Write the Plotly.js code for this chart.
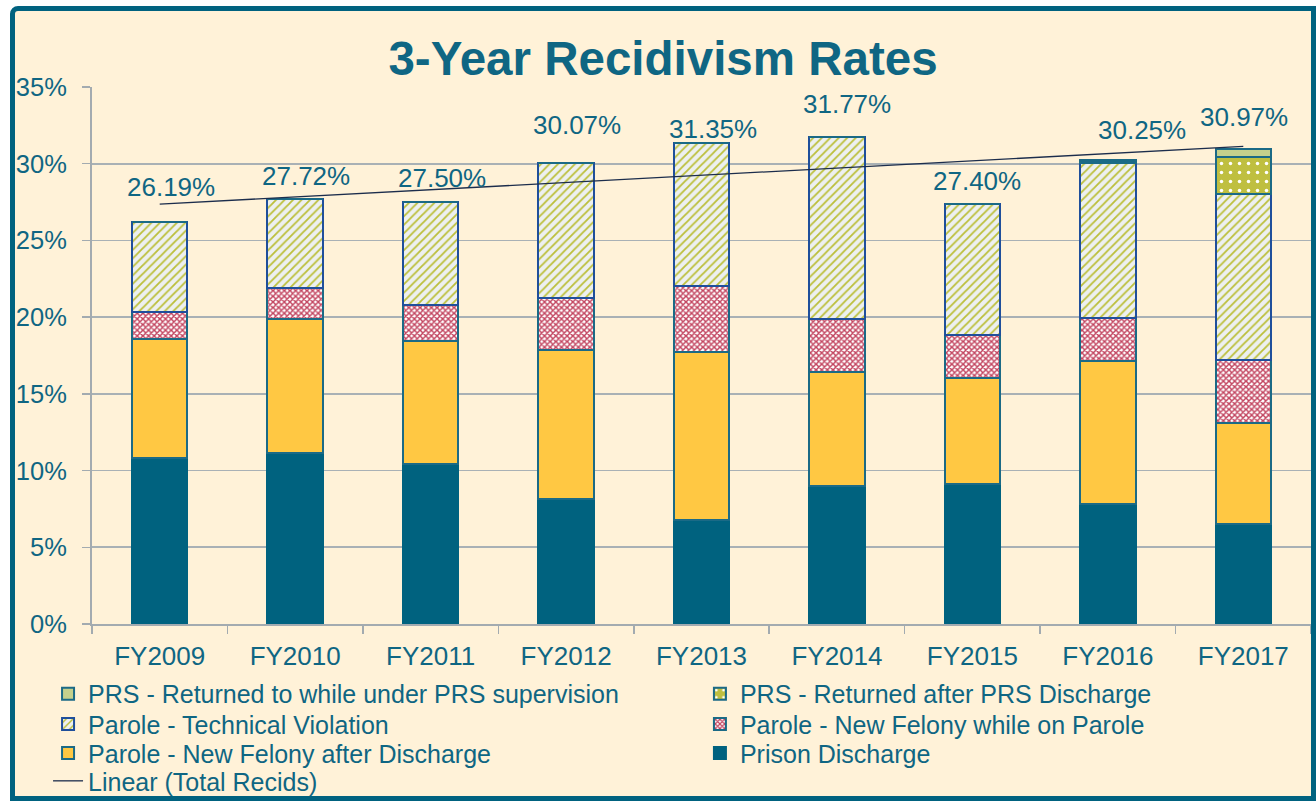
<!DOCTYPE html>
<html>
<head>
<meta charset="utf-8">
<script src="https://cdn.plot.ly/plotly-3.0.1.min.js"></script>
<style>
  html, body { margin: 0; padding: 0; background: #ffffff; }
  #frame {
    position: absolute; left: 10px; top: 6px; width: 1306px; height: 795px;
    box-sizing: border-box; border: 5px solid #00627f; border-top-left-radius: 8px;
    background: #fff2d8; overflow: hidden;
  }
  #chart { width: 1296px; height: 785px; }
</style>
</head>
<body>
<div id="frame"><div id="chart"></div></div>
<script>
// ---- data (percent) ----
const years = ["FY2009","FY2010","FY2011","FY2012","FY2013","FY2014","FY2015","FY2016","FY2017"];
const prisonDischarge      = [10.82, 11.15, 10.43, 8.15, 6.78, 9.00, 9.13, 7.82, 6.50];
const newFelonyAfterDisch  = [7.76, 8.73, 8.02, 9.71, 10.95, 7.43, 6.91, 9.32, 6.62];
const newFelonyOnParole    = [1.76, 2.02, 2.35, 3.39, 4.30, 3.45, 2.80, 2.81, 4.09];
const technicalViolation   = [5.85, 5.82, 6.70, 8.82, 9.32, 11.89, 8.56, 10.10, 10.82];
const prsAfterDischarge    = [0, 0, 0, 0, 0, 0, 0, 0.15, 2.43];
const prsUnderSupervision  = [0, 0, 0, 0, 0, 0, 0, 0.05, 0.51];
const totalRecids          = [26.19, 27.72, 27.50, 30.07, 31.35, 31.77, 27.40, 30.25, 30.97];
const totalLabels          = ["26.19%","27.72%","27.50%","30.07%","31.35%","31.77%","27.40%","30.25%","30.97%"];
const yTickVals            = [0, 5, 10, 15, 20, 25, 30, 35];
const yTickText            = ["0%","5%","10%","15%","20%","25%","30%","35%"];

// ---- styles ----
const TEAL = "#00627f";
const TEXT = "#0f6683";
const FONT = "Liberation Sans, Arial, sans-serif";
const labelShiftY = [35, 23, 24, 38, 14, 33, 23, 30, 32];
const labelShiftX = [11, 11, 11, 11, 11, 10, 5, 34, 1];

// Linear trendline (least squares over totals)
const n = totalRecids.length;
const xs = totalRecids.map((_, i) => i);
const mx = xs.reduce((a, b) => a + b, 0) / n;
const my = totalRecids.reduce((a, b) => a + b, 0) / n;
let sxy = 0, sxx = 0;
for (let i = 0; i < n; i++) { sxy += (xs[i] - mx) * (totalRecids[i] - my); sxx += (xs[i] - mx) ** 2; }
const slope = sxy / sxx, icpt = my - slope * mx;
const trend = xs.map(x => icpt + slope * x);

const barW = 0.41;
const edge = { color: "#1b6a86", width: 2 };

const traces = [
  { type: "bar", name: "Prison Discharge", x: years, y: prisonDischarge, width: barW,
    marker: { color: TEAL, line: { color: TEAL, width: 2 } }, legend: "legend6" },
  { type: "bar", name: "Parole - New Felony after Discharge", x: years, y: newFelonyAfterDisch, width: barW,
    marker: { color: "#ffc843", line: edge }, legend: "legend5" },
  { type: "bar", name: "Parole - New Felony while on Parole", x: years, y: newFelonyOnParole, width: barW,
    marker: { color: "#ffffff", line: edge,
      pattern: { shape: "x", fgcolor: "#c2445f", bgcolor: "#ffffff", size: 4, solidity: 0.6 } }, legend: "legend4" },
  { type: "bar", name: "Parole - Technical Violation", x: years, y: technicalViolation, width: barW,
    marker: { color: "#edf0f0", line: { color: "#1f4f9b", width: 2 },
      pattern: { shape: "/", fgcolor: "#bcbf3a", bgcolor: "#edf0f0", size: 6, solidity: 0.3 } }, legend: "legend3" },
  { type: "bar", name: "PRS - Returned after PRS Discharge", x: years, y: prsAfterDischarge, width: barW,
    marker: { color: "#bfbf40", line: edge,
      pattern: { shape: ".", fgcolor: "#ffffff", bgcolor: "#bfbf40", size: 9, solidity: 0.12 } }, legend: "legend2" },
  { type: "bar", name: "PRS - Returned to while under PRS supervision", x: years, y: prsUnderSupervision, width: barW,
    marker: { color: "#c5d08c", line: edge }, legend: "legend" },
  { type: "scatter", mode: "lines", name: "Linear (Total Recids)", x: years, y: trend,
    line: { color: "#1c2d4c", width: 1.3 }, hoverinfo: "skip", legend: "legend7" }
];

const annotations = years.map((yr, i) => ({
  x: yr, y: totalRecids[i], xref: "x", yref: "y", text: totalLabels[i],
  showarrow: false, yanchor: "middle", xanchor: "center", yshift: labelShiftY[i], xshift: labelShiftX[i],
  font: { family: FONT, size: 26, color: TEXT }
}));

function leg(x, y) {
  return { orientation: "v", x: x, xanchor: "left", xref: "container", y: y, yanchor: "middle", yref: "container",
           font: { family: FONT, size: 25, color: TEXT }, bgcolor: "rgba(0,0,0,0)", borderwidth: 0 };
}
const colX = [0.0255, 0.5285];
const rowY = [0.1300, 0.0915, 0.0545, 0.0190];

const layout = {
  width: 1296, height: 785,
  paper_bgcolor: "rgba(0,0,0,0)", plot_bgcolor: "rgba(0,0,0,0)",
  margin: { l: 77, r: 0, t: 76, b: 172, autoexpand: false },
  barmode: "stack",
  font: { family: FONT, color: TEXT, size: 26 },
  title: { text: "<b>3-Year Recidivism Rates</b>", x: 0.5, xanchor: "center",
           y: 0.940, yanchor: "middle", yref: "container",
           font: { family: FONT, size: 47.5, color: TEXT } },
  xaxis: { type: "category", showgrid: false, showline: true, linecolor: "#a3abb0", linewidth: 2,
           ticks: "outside", tickson: "boundaries", ticklen: 8, tickcolor: "#a3abb0", tickwidth: 1.5,
           ticklabelstandoff: 8, tickfont: { family: FONT, size: 26, color: TEXT } },
  yaxis: { range: [0, 35], tickvals: yTickVals, ticktext: yTickText, showgrid: true,
           gridcolor: "#a9b1b5", gridwidth: 1.8, zeroline: false, showline: true, linecolor: "#a3abb0", linewidth: 2,
           ticks: "outside", ticklen: 8, tickcolor: "#a3abb0", tickwidth: 1.5, ticklabelstandoff: 10,
           tickfont: { family: FONT, size: 25.5, color: TEXT } },
  showlegend: true,
  legend:  leg(colX[0], rowY[0]),
  legend2: leg(colX[1], rowY[0]),
  legend3: leg(colX[0], rowY[1]),
  legend4: leg(colX[1], rowY[1]),
  legend5: leg(colX[0], rowY[2]),
  legend6: leg(colX[1], rowY[2]),
  legend7: leg(colX[0], rowY[3]),
  annotations: annotations
};

Plotly.newPlot("chart", traces, layout, { displayModeBar: false, staticPlot: true });
</script>
</body>
</html>
